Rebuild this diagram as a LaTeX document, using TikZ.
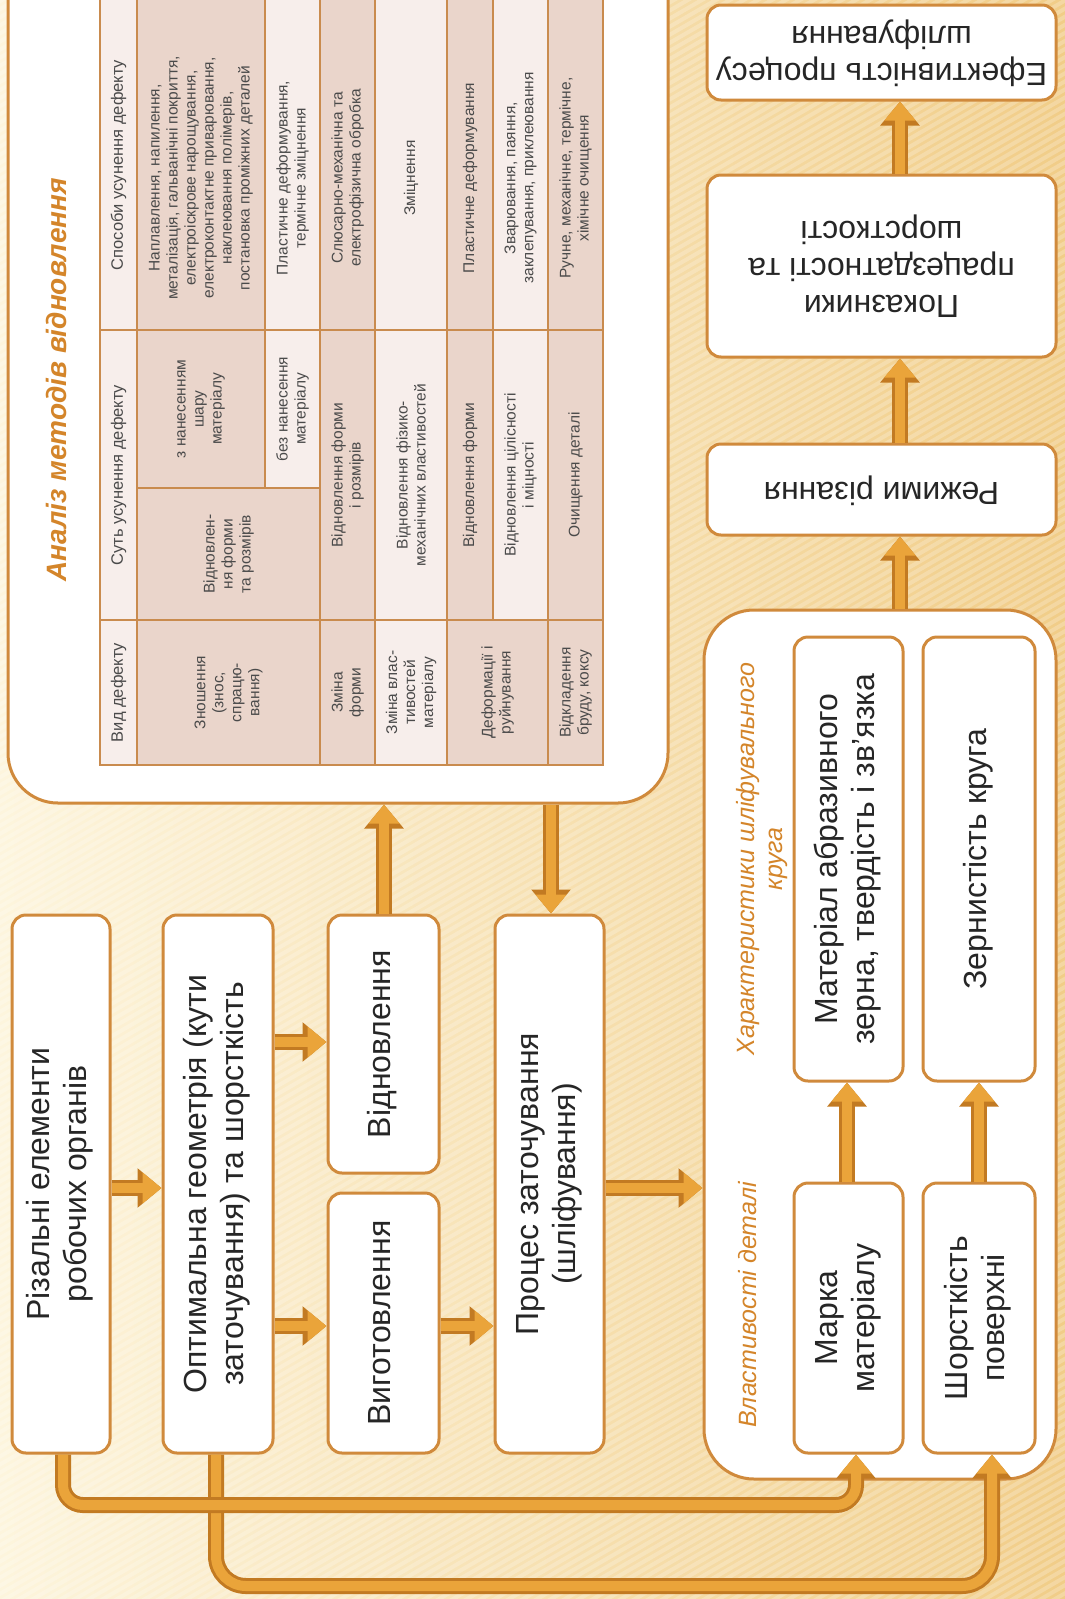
\documentclass[tikz,border=0pt]{standalone}
\usepackage{fontspec}
\setmainfont{Liberation Sans}
\usepackage{graphicx}
\usetikzlibrary{arrows.meta}
\definecolor{bgL}{HTML}{FDF5DD}
\definecolor{bgR}{HTML}{F1CD88}
\definecolor{boxD}{HTML}{D08A3C}
\definecolor{arrD}{HTML}{C27A22}
\definecolor{arrL}{HTML}{EAA43A}
\definecolor{tabL}{HTML}{C98B4E}
\definecolor{cellD}{HTML}{EAD5CB}
\definecolor{cellL}{HTML}{F7EEEB}
\definecolor{ttxt}{HTML}{4A4A4A}
\definecolor{ortxt}{HTML}{D4852A}
\newcommand{\bigf}{\fontsize{32}{37}\selectfont}
\newcommand{\tabf}{\fontsize{15.5}{18}\selectfont}
\newcommand{\headf}{\fontsize{16.5}{19}\selectfont}
\newcommand{\vtxt}[1]{\rotatebox{90}{\begin{tabular}{@{}c@{}}#1\end{tabular}}}
\newcommand{\utxt}[1]{\rotatebox{180}{\begin{tabular}{@{}c@{}}#1\end{tabular}}}
\newcommand{\barr}[2]{\draw[arrout] #1 -- #2; \draw[arrin] #1 -- #2;}
\tikzset{
 mbox/.style={draw=boxD, line width=3pt, fill=white, rounded corners=14pt, inner sep=0pt, font=\bigf, text=black!85},
 cbox/.style={draw=boxD, line width=3pt, fill=white, rounded corners=50pt, inner sep=0pt},
 arrout/.style={draw=arrD, line width=16pt, -{Triangle[width=38pt,length=24pt]}},
 arrin/.style={draw=arrL, line width=10pt, -{Triangle[width=30pt,length=19pt]}},
 dcell/.style={fill=cellD, draw=tabL, line width=1.8pt},
 lcell/.style={fill=cellL, draw=tabL, line width=1.8pt},
 ttext/.style={rotate=90, align=center, font=\tabf, text=ttxt, inner sep=0pt},
 htext/.style={ttext, font=\headf},
 otext/.style={rotate=90, align=center, text=ortxt, inner sep=0pt}
}
\begin{document}
\begin{tikzpicture}[x=1pt,y=-1pt]
\useasboundingbox (0,0) rectangle (1065,1599);
\begin{scope}
\clip (0,0) rectangle (1065,1599);
\shade[left color=bgL, right color=bgR] (0,0) rectangle (1065,1599);
\foreach \i in {-2800,-2786,...,1070} \draw[white, opacity=0.22, line width=4pt] (\i,1610) -- ++(2800,-1617);

% table container
\node[cbox, minimum width=660pt, minimum height=883pt] (T) at (338,361.5) {};
\node[otext, font=\fontsize{28}{32}\selectfont\bfseries\itshape] (title) at (56,380) {Аналіз методів відновлення};

% table header
\path[lcell] (100,620) rectangle (137,765); \node[htext] (h1) at (118.5,692.5) {Вид дефекту};
\path[lcell] (100,330) rectangle (137,620); \node[htext] (h2) at (118.5,475) {Суть усунення дефекту};
\path[lcell] (100,-10) rectangle (137,330); \node[htext] (h3) at (118.5,165) {Способи усунення дефекту};
% row 1
\path[dcell] (137,620) rectangle (320,765); \node[ttext] (c11) at (228.5,692.5) {Зношення\\(знос,\\спрацю-\\вання)};
\path[dcell] (137,488) rectangle (320,620); \node[ttext] (c12) at (228.5,554) {Відновлен-\\ня форми\\та розмірів};
\path[dcell] (137,330) rectangle (265,488); \node[ttext] (c12a) at (201,409) {з нанесенням\\шару\\матеріалу};
\path[lcell] (265,330) rectangle (320,488); \node[ttext] (c12b) at (292.5,409) {без нанесення\\матеріалу};
\path[dcell] (137,-10) rectangle (265,330); \node[ttext] (c13a) at (201,178) {Наплавлення, напилення,\\металізація, гальванічні покриття,\\електроіскрове нарощування,\\електроконтактне приварювання,\\наклеювання полімерів,\\постановка проміжних деталей};
\path[lcell] (265,-10) rectangle (320,330); \node[ttext] (c13b) at (292.5,178) {Пластичне деформування,\\термічне зміцнення};
% row 2
\path[dcell] (320,620) rectangle (375,765); \node[ttext] (c21) at (347.5,692.5) {Зміна\\форми};
\path[dcell] (320,330) rectangle (375,620); \node[ttext] (c22) at (347.5,475) {Відновлення форми\\і розмірів};
\path[dcell] (320,-10) rectangle (375,330); \node[ttext] (c23) at (347.5,178) {Слюсарно-механічна та\\електрофізична обробка};
% row 3
\path[lcell] (375,620) rectangle (447,765); \node[ttext] (c31) at (411,692.5) {Зміна влас-\\тивостей\\матеріалу};
\path[lcell] (375,330) rectangle (447,620); \node[ttext] (c32) at (411,475) {Відновлення фізико-\\механічних властивостей};
\path[lcell] (375,-10) rectangle (447,330); \node[ttext] (c33) at (411,178) {Зміцнення};
% row 4
\path[dcell] (447,620) rectangle (548,765); \node[ttext] (c41) at (497.5,692.5) {Деформації і\\руйнування};
\path[dcell] (447,330) rectangle (493,620); \node[ttext] (c42a) at (470,475) {Відновлення форми};
\path[dcell] (447,-10) rectangle (493,330); \node[ttext] (c43a) at (470,178) {Пластичне деформування};
\path[lcell] (493,330) rectangle (548,620); \node[ttext] (c42b) at (520.5,475) {Відновлення цілісності\\і міцності};
\path[lcell] (493,-10) rectangle (548,330); \node[ttext] (c43b) at (520.5,178) {Зварювання, паяння,\\заклепування, приклеювання};
% row 5
\path[dcell] (548,620) rectangle (603,765); \node[ttext] (c51) at (575.5,692.5) {Відкладення\\бруду, коксу};
\path[dcell] (548,330) rectangle (603,620); \node[ttext] (c52) at (575.5,475) {Очищення деталі};
\path[dcell] (548,-10) rectangle (603,330); \node[ttext] (c53) at (575.5,178) {Ручне, механічне, термічне,\\хімічне очищення};

% left boxes
\node[mbox, minimum width=98pt, minimum height=538pt] (b1) at (61,1184) {\vtxt{Різальні елементи\\робочих органів}};
\node[mbox, minimum width=110pt, minimum height=538pt] (b2) at (218,1184) {\vtxt{Оптимальна геометрія (кути\\заточування) та шорсткість}};
\node[mbox, minimum width=111pt, minimum height=258pt] (b3) at (383.5,1044) {\vtxt{Відновлення}};
\node[mbox, minimum width=111pt, minimum height=260pt] (b4) at (383.5,1323) {\vtxt{Виготовлення}};
\node[mbox, minimum width=109pt, minimum height=538pt] (b5) at (549.5,1184) {\vtxt{Процес заточування\\(шліфування)}};

% right container
\node[cbox, minimum width=352pt, minimum height=869pt] (R) at (880,1044.5) {};
\node[otext, font=\fontsize{25}{28}\selectfont\itshape] (lab1) at (748,1305) {Властивості деталі};
\node[otext, font=\fontsize{25}{28}\selectfont\itshape] (lab2) at (762,859) {Характеристики шліфувального\\круга};
\node[mbox, minimum width=109pt, minimum height=270pt] (m1) at (848.5,1318) {\vtxt{Марка\\матеріалу}};
\node[mbox, minimum width=109pt, minimum height=444pt] (m2) at (848.5,859) {\vtxt{Матеріал абразивного\\зерна, твердість і зв'язка}};
\node[mbox, minimum width=112pt, minimum height=270pt] (m3) at (979,1318) {\vtxt{Шорсткість\\поверхні}};
\node[mbox, minimum width=112pt, minimum height=444pt] (m4) at (979,859) {\vtxt{Зернистість круга}};

% right column
\node[mbox, minimum width=349pt, minimum height=91pt] (r1) at (881.5,489.5) {\utxt{Режими різання}};
\node[mbox, minimum width=349pt, minimum height=182pt] (r2) at (881.5,266) {\utxt{Показники\\працездатності та\\шорсткості}};
\node[mbox, minimum width=349pt, minimum height=95pt] (r3) at (881.5,52.5) {\utxt{Ефективність процесу\\шліфування}};

% arrows
\barr{(b1.east |- 0,1188)}{(b2.west |- 0,1188)}
\barr{(b2.east |- 0,1042)}{(b3.west |- 0,1042)}
\barr{(b2.east |- 0,1326)}{(b4.west |- 0,1326)}
\barr{(b4.east |- 0,1326)}{(b5.west |- 0,1326)}
\barr{(b3.north -| 384,0)}{(T.south -| 384,0)}
\barr{(T.south -| 551,0)}{(b5.north -| 551,0)}
\barr{(b5.east |- 0,1188)}{(R.west |- 0,1188)}
\barr{(R.north -| 900,0)}{(r1.south -| 900,0)}
\barr{(r1.north -| 900,0)}{(r2.south -| 900,0)}
\barr{(r2.north -| 900,0)}{(r3.south -| 900,0)}
\barr{(m1.north -| 847,0)}{(m2.south -| 847,0)}
\barr{(m3.north -| 979,0)}{(m4.south -| 979,0)}

% loops
\draw[arrout, rounded corners=30pt] (b2.south -| 216,0) |- (992,1586) -- (m3.south -| 992,0);
\draw[arrin, rounded corners=30pt] (b2.south -| 216,0) |- (992,1586) -- (m3.south -| 992,0);
\draw[arrout, rounded corners=20pt] (b1.south -| 63,0) |- (856,1505) -- (m1.south -| 856,0);
\draw[arrin, rounded corners=20pt] (b1.south -| 63,0) |- (856,1505) -- (m1.south -| 856,0);
\end{scope}
\end{tikzpicture}
\end{document}
